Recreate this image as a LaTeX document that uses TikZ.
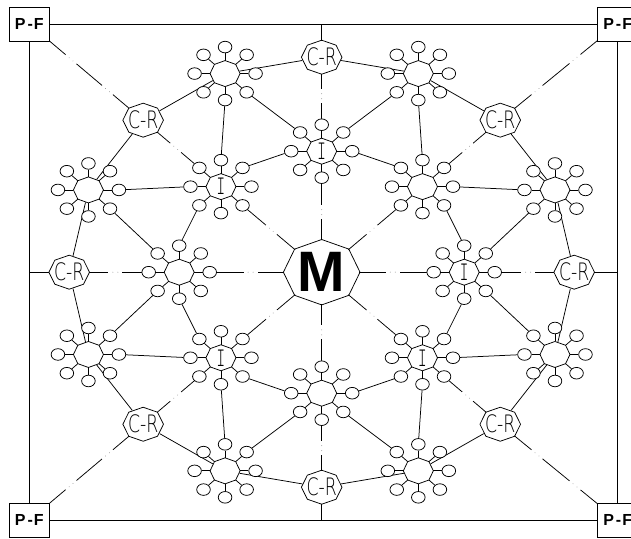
\documentclass[tikz,border=0pt]{standalone}
\usepackage{fontspec}
\setmainfont{Liberation Sans}
\IfFontExistsTF{DejaVu Sans ExtraLight}
  {\newfontfamily\crfont{DejaVu Sans ExtraLight}}
  {\IfFontExistsTF{DejaVuSans-ExtraLight.ttf}
    {\newfontfamily\crfont{DejaVuSans-ExtraLight.ttf}}
    {\newfontfamily\crfont{DejaVu Sans}}}
\IfFontExistsTF{lmmonolt10-regular.otf}
  {\newfontfamily\Ifnt{lmmonolt10-regular.otf}}
  {\IfFontExistsTF{Latin Modern Mono Light}
    {\newfontfamily\Ifnt{Latin Modern Mono Light}}
    {\newfontfamily\Ifnt{Liberation Mono}}}
\usetikzlibrary{shapes.geometric,calc,decorations.markings}
\pgfdeclarelayer{bg}
\pgfsetlayers{bg,main}
\newcommand\gapmark{%
  \fill[white] (-7pt,-1.6pt) rectangle (7pt,1.6pt);
  \fill[black!40] (-2.5pt,0pt) circle (0.5pt);
  \fill[black!40] (2.5pt,0pt) circle (0.5pt);}
\newcommand\octo[3]{\draw[ln,shift={(#1)}] (0:#2 and #3) -- (45:#2 and #3) -- (90:#2 and #3) -- (135:#2 and #3) -- (180:#2 and #3) -- (225:#2 and #3) -- (270:#2 and #3) -- (315:#2 and #3) -- cycle;}
\newcommand\hubat[2]{%
  \node[hubn] (#1) at (#2) {};
  \octo{#1}{15}{13}
  \foreach \s in {0,45,...,315}{%
    \node[sat] (#1-\s) at ($(#1)+(\s:30.5 and 26.5)$) {};
    \coordinate (#1-v\s) at ($(#1)+(\s:15 and 13)$);
    \draw[ln] (#1-v\s) -- (#1-\s);
  }%
}
\begin{document}
\begin{tikzpicture}[x=1pt,y=1pt,
  ln/.style={line width=0.75pt,draw=black},
  hubn/.style={ellipse,draw=none,inner sep=0pt,minimum width=29pt,minimum height=25.2pt},
  crn/.style={ellipse,draw=none,inner sep=0pt,minimum width=39.4pt,minimum height=33pt},
  mn/.style={ellipse,draw=none,inner sep=0pt,minimum width=74.3pt,minimum height=63.4pt},
  sat/.style={ellipse,draw,fill=white,line width=0.75pt,inner sep=0pt,minimum width=13.6pt,minimum height=11.6pt},
  pf/.style={rectangle,draw,fill=white,line width=0.75pt,inner sep=0pt,minimum width=40pt,minimum height=34pt,font=\bfseries\fontsize{16}{16}\selectfont},
  crt/.style={inner sep=0pt,font=\crfont\fontsize{24}{24}\selectfont},
  itx/.style={inner sep=0pt,font=\Ifnt\fontsize{27}{27}\selectfont},
  mt/.style={inner sep=0pt,font=\bfseries\fontsize{57}{57}\selectfont},
  cl/.style={ln,postaction={decorate,decoration={markings,mark=at position 0.5 with {\gapmark}}}},
  cltwo/.style={ln,postaction={decorate,decoration={markings,mark=at position 0.27 with {\gapmark},mark=at position 0.73 with {\gapmark}}}},
]
\useasboundingbox (0,0) rectangle (631,-538);
\coordinate (C) at (321.7,-272.2);
% frame corners
\node[pf] (pfTL) at (29.3,-24) {P\kern2pt-\kern1pt F};
\node[pf] (pfTR) at (617.7,-24) {P\kern2pt-\kern1pt F};
\node[pf] (pfBL) at (29.3,-520.3) {P\kern2pt-\kern1pt F};
\node[pf] (pfBR) at (617.7,-520.3) {P\kern2pt-\kern1pt F};
\coordinate (e90) at (321.7,-24);
\coordinate (e270) at (321.7,-520.3);
\coordinate (e180) at (29.3,-272.2);
\coordinate (e0) at (617.7,-272.2);
% main node
\node[mn] (M) at (C) {};
\octo{M}{38.3}{32.7}
\node[mt] (M-t) at (M) {M};
% C-R nodes
\foreach \a in {0,45,...,315}{%
  \node[crn] (cr\a) at ($(C)+(\a:252.5 and 215)$) {};
  \octo{cr\a}{20.3}{17}
  \node[crt] (cr\a-t) at (cr\a) {\scalebox{0.72}[1]{C-R}};
}
% inner hubs
\foreach \a in {0,45,...,315}{\hubat{ih\a}{$(C)+(\a:142.5 and 121)$}}
\foreach \a in {0,90,135,225,315}{\node[itx] (ih\a-t) at (ih\a) {\scalebox{0.6}[1]{I}};}
% outer hubs
\foreach \a/\n in {22.5/22,67.5/67,112.5/112,157.5/157,202.5/202,247.5/247,292.5/292,337.5/337}{\hubat{oh\n}{$(C)+(\a:252.5 and 215)$}}
% connectors
\begin{pgfonlayer}{bg}
\draw[ln] (pfTL) -- (pfTR) -- (pfBR) -- (pfBL) -- (pfTL);
\foreach \a in {0,45,...,315}{%
  \pgfmathtruncatemacro\b{mod(\a+180,360)}
  \draw[cl] (M) -- (ih\a-\b);
  \draw[cl] (ih\a-\a) -- (cr\a);
}
\foreach \a in {0,90,180,270}{\draw[ln] (cr\a) -- (e\a);}
\draw[cltwo] (pfTL) -- (cr135);
\draw[cltwo] (pfTR) -- (cr45);
\draw[cltwo] (pfBL) -- (cr225);
\draw[cltwo] (pfBR) -- (cr315);
\foreach \p/\q in {cr0/oh22,oh22/cr45,cr45/oh67,oh67/cr90,cr90/oh112,oh112/cr135,cr135/oh157,oh157/cr180,cr180/oh202,oh202/cr225,cr225/oh247,oh247/cr270,cr270/oh292,oh292/cr315,cr315/oh337,oh337/cr0}{\draw[ln] (\p) -- (\q);}
\foreach \p/\q in {oh112-270/ih135-90,oh112-315/ih90-135,ih135-45/ih90-180,oh67-225/ih90-45,oh67-270/ih45-90,ih90-0/ih45-135,
  ih135-180/oh157-0,ih135-225/ih180-90,oh157-315/ih180-135,ih180-225/oh202-45,ih180-270/ih225-135,oh202-0/ih225-180,
  ih225-315/ih270-180,ih225-270/oh247-90,oh247-45/ih270-225,ih315-225/ih270-0,ih315-270/oh292-90,oh292-135/ih270-315,
  ih45-0/oh22-180,ih45-315/ih0-90,oh22-225/ih0-45,ih0-270/ih315-45,ih0-315/oh337-135,oh337-180/ih315-0}{\draw[ln] (\p) -- (\q);}
\end{pgfonlayer}
\end{tikzpicture}
\end{document}
